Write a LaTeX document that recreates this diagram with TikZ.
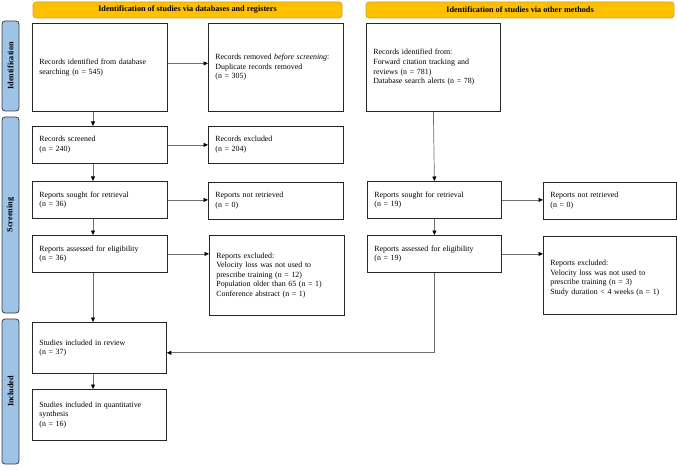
\documentclass[tikz,border=0pt]{standalone}
\usepackage{fontspec}
\setmainfont{Liberation Serif}
\usetikzlibrary{arrows.meta,calc}
\definecolor{hdrfill}{HTML}{FFC000}
\definecolor{hdrdraw}{HTML}{C9A227}
\definecolor{sidefill}{HTML}{9DC3E6}
\definecolor{sidedraw}{HTML}{3F3F3F}
\definecolor{linegray}{HTML}{6F6F6F}
\tikzset{
  box/.style={draw=black!85, line width=0.8pt, align=left, inner xsep=7pt, inner ysep=0pt,
    anchor=north west, font=\fontsize{7.9}{9.6}\selectfont},
  hdr/.style={draw=hdrdraw, fill=hdrfill, rounded corners=3pt, line width=0.6pt},
  side/.style={draw=sidedraw, fill=sidefill, rounded corners=3pt, line width=0.8pt},
  lbl/.style={font=\fontsize{8.2}{9.5}\selectfont\bfseries},
  arr/.style={draw=linegray, line width=0.7pt, -{Triangle[length=4.5pt,width=4pt,color=black]}},
  ln/.style={draw=linegray, line width=0.7pt}
}
\begin{document}
\begin{tikzpicture}[x=1pt,y=-1pt]
\useasboundingbox (0,0) rectangle (677,473);
% headers
\draw[hdr] (33,2) rectangle (342,18);
\node[lbl] (h1) at (187.5,10) {Identification of studies via databases and registers};
\draw[hdr] (366,2) rectangle (674,18);
\node[lbl] (h2) at (520,10) {Identification of studies via other methods};
% side bars
\draw[side] (2,21) rectangle (19,111);
\node[lbl, rotate=90] (s1) at (10.5,66) {Identification};
\draw[side] (2,117) rectangle (19,313);
\node[lbl, rotate=90] (s2) at (10.5,215) {Screening};
\draw[side] (2,319) rectangle (19,464);
\node[lbl, rotate=90] (s3) at (10.5,391.5) {Included};
% boxes left
\node[box, text width=121pt, minimum height=88pt] (A) at (32,23) {Records identified from database\\searching (n = 545)};
\node[box, text width=121pt, minimum height=88pt] (B) at (208,23) {Records removed \textit{before screening}:\\Duplicate records removed\\(n = 305)};
\node[box, text width=120pt, minimum height=88pt] (C) at (366,23) {Records identified from:\\Forward citation tracking and\\reviews (n = 781)\\Database search alerts (n = 78)};
\node[box, text width=121pt, minimum height=37pt] (S) at (32,126) {Records screened\\(n = 240)};
\node[box, text width=121pt, minimum height=37pt] (E) at (208,126) {Records excluded\\(n = 204)};
\node[box, text width=121pt, minimum height=37pt] (R) at (32,181) {Reports sought for retrieval\\(n = 36)};
\node[box, text width=121pt, minimum height=37pt] (N) at (208,182) {Reports not retrieved\\(n = 0)};
\node[box, text width=121pt, minimum height=37pt] (L) at (32,235) {Reports assessed for eligibility\\(n = 36)};
\node[box, text width=121pt, minimum height=80pt] (X) at (209,235) {Reports excluded:\\Velocity loss was not used to\\prescribe training (n = 12)\\Population older than 65 (n = 1)\\Conference abstract (n = 1)};
% boxes right
\node[box, text width=120pt, minimum height=37pt] (R2) at (367,181) {Reports sought for retrieval\\(n = 19)};
\node[box, text width=119pt, minimum height=37pt] (N2) at (543,182) {Reports not retrieved\\(n = 0)};
\node[box, text width=120pt, minimum height=37pt] (L2) at (367,235) {Reports assessed for eligibility\\(n = 19)};
\node[box, text width=119pt, minimum height=78pt] (X2) at (543,236) {\\[1pt]Reports excluded:\\Velocity loss was not used to\\prescribe training (n = 3)\\Study duration < 4 weeks (n = 1)};
% included
\node[box, text width=120pt, minimum height=51pt] (I) at (32,322) {Studies included in review\\(n = 37)\\[6pt]};
\node[box, text width=120pt, minimum height=51pt] (Q) at (32,389) {Studies included in quantitative\\synthesis\\(n = 16)};
% connectors
\coordinate (xL) at (93,0);
\draw[arr] ([yshift=4pt]A.east) -- ([yshift=4pt]A.east -| B.west);
\draw[arr] (A.south -| xL) -- (S.north -| xL);
\draw[arr] (S.east) -- (S.east -| E.west);
\draw[arr] (S.south -| xL) -- (R.north -| xL);
\draw[arr] (R.east) -- (R.east -| N.west);
\draw[arr] (R.south -| xL) -- (L.north -| xL);
\draw[arr] (L.east) -- (L.east -| X.west);
\draw[arr] (L.south -| xL) -- (I.north -| xL);
\draw[arr] (I.south -| xL) -- (Q.north -| xL);
\draw[arr] (C.south) -- (R2.north);
\draw[arr] (R2.east) -- (R2.east -| N2.west);
\draw[arr] (R2.south) -- (L2.north);
\draw[arr] (L2.east) -- (L2.east -| X2.west);
\coordinate (elb) at ($(L2.south)+(0,80)$);
\draw[arr] (L2.south) -- (elb) -- (elb -| I.east);
\end{tikzpicture}
\end{document}
